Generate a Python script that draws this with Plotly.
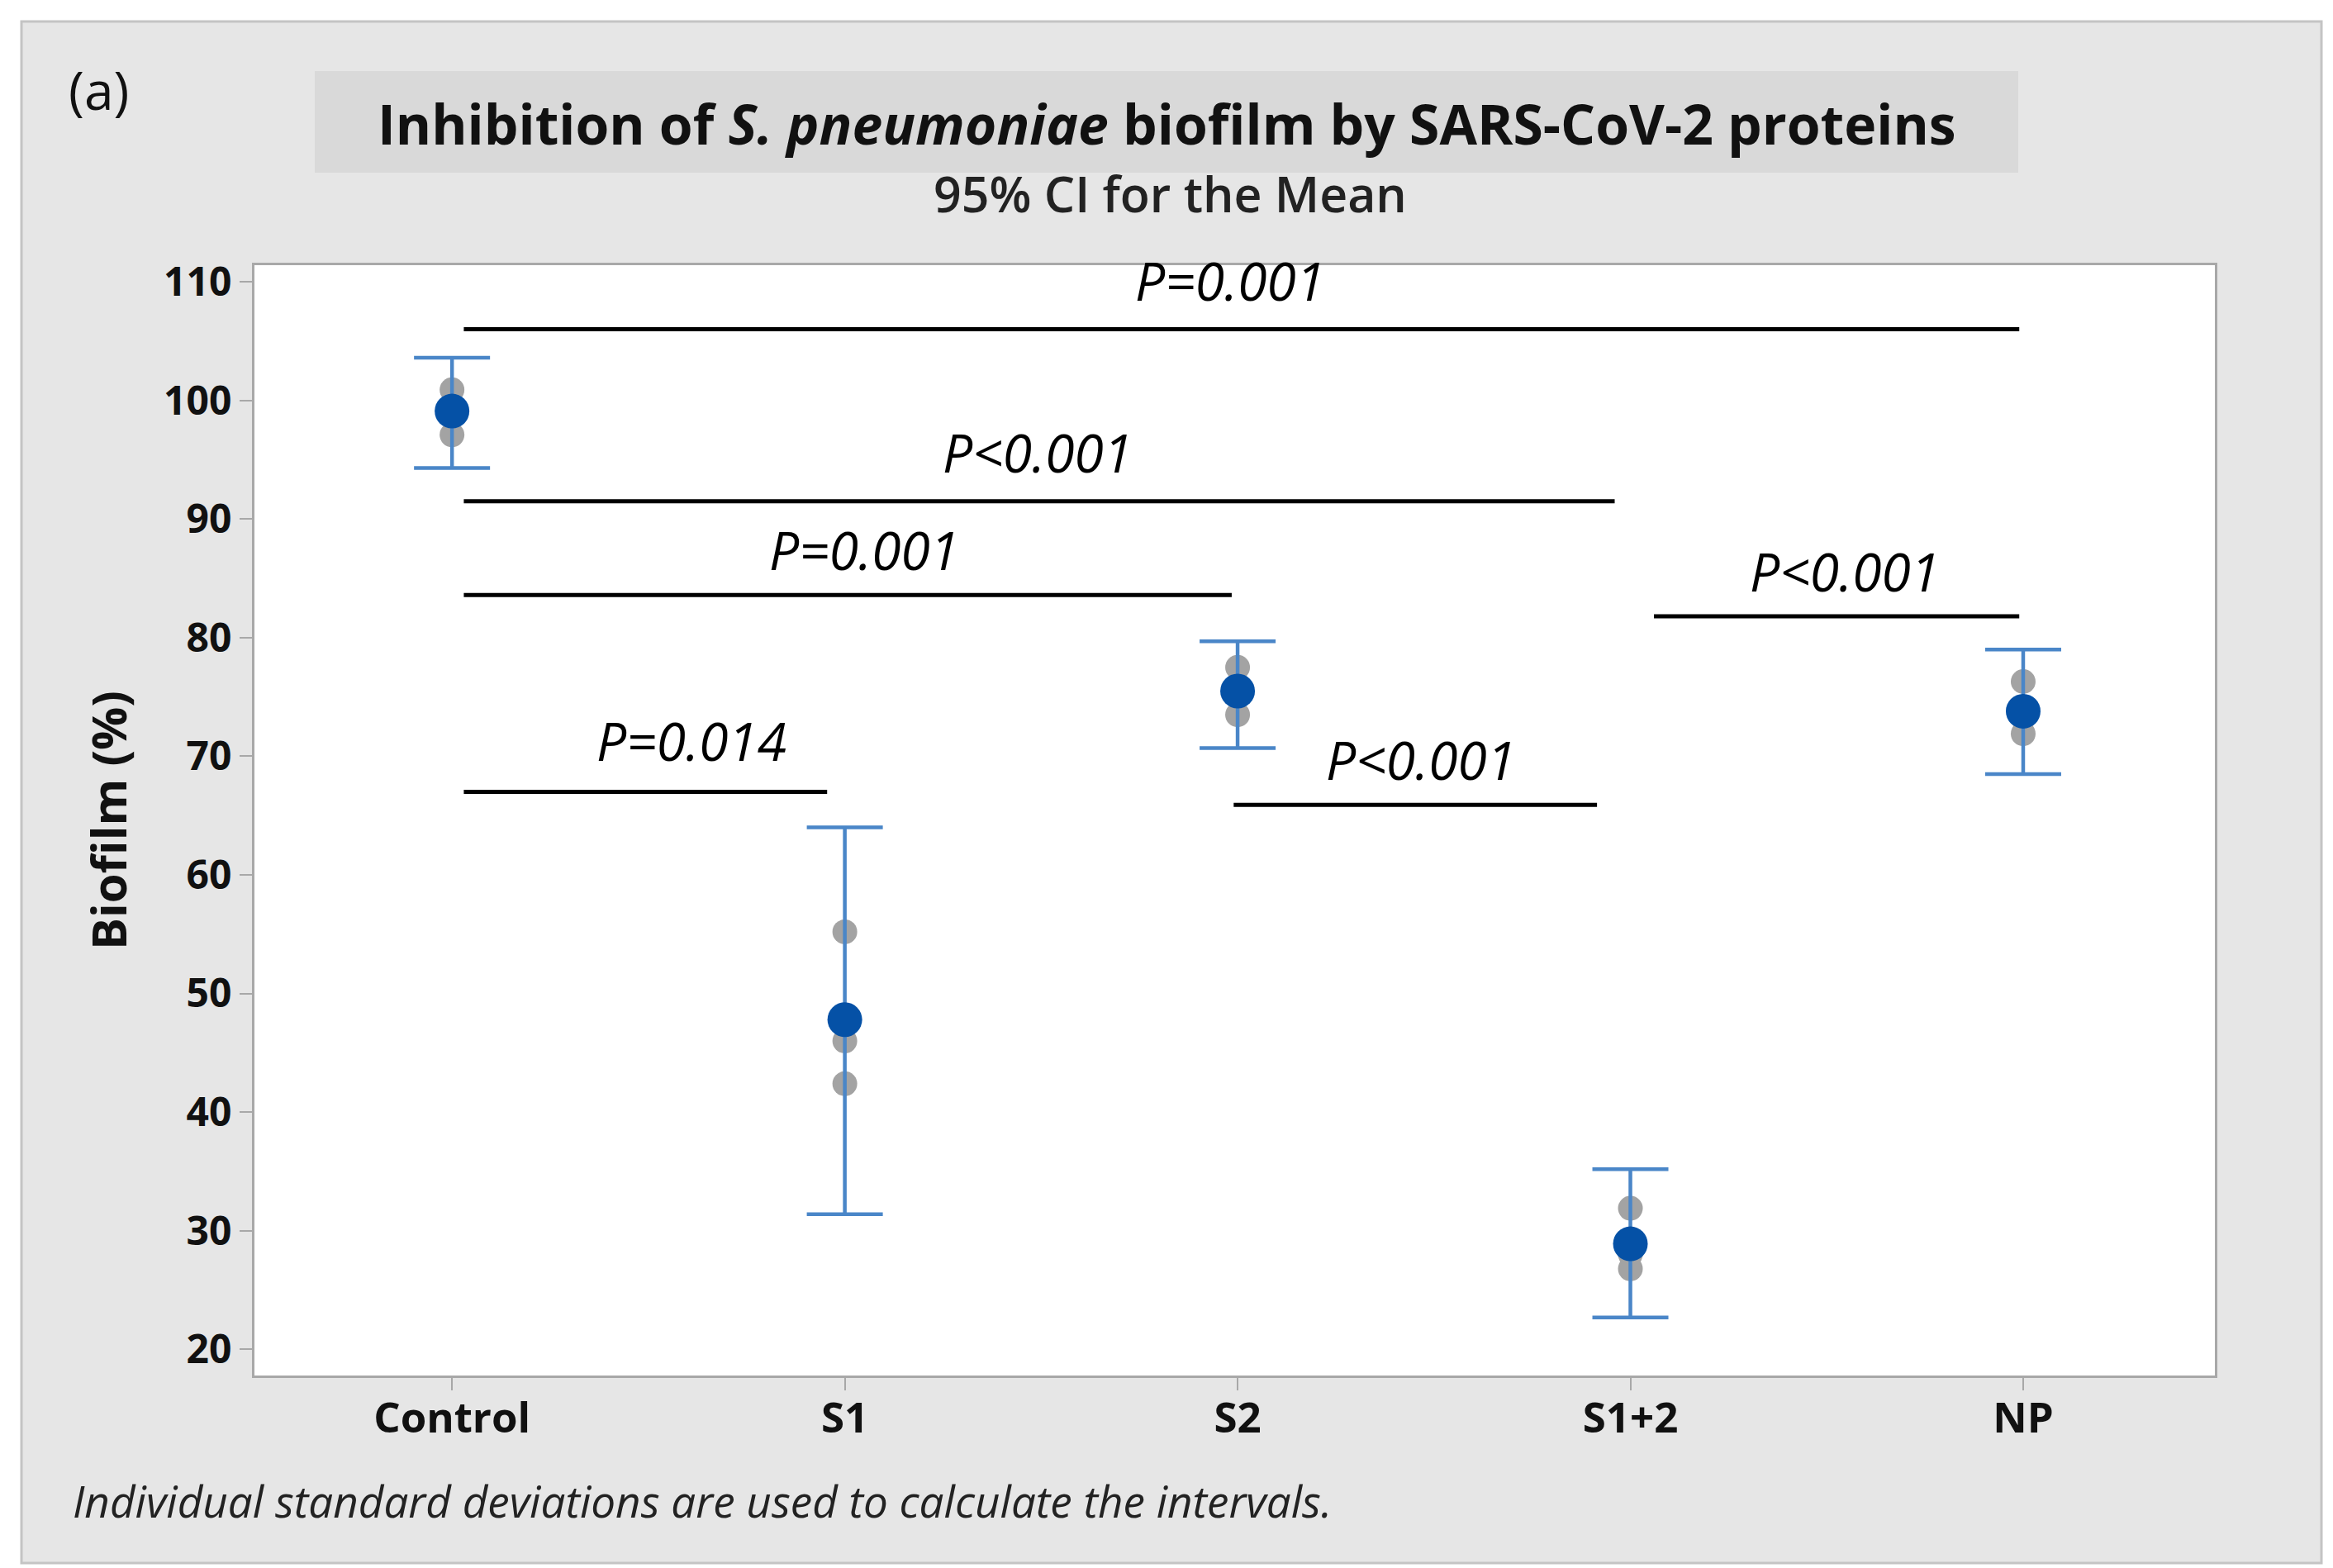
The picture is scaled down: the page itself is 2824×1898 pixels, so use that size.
import plotly.graph_objects as go

# ---------------- data ----------------
categories = ["Control", "S1", "S2", "S1+2", "NP"]
means = [99.1, 47.8, 75.5, 28.9, 73.8]
ci_lower = [94.3, 31.4, 70.7, 22.7, 68.5]
ci_upper = [103.6, 64.0, 79.7, 35.2, 79.0]
individual = [
    [100.9, 99.3, 97.1],
    [55.2, 46.0, 42.4],
    [77.5, 75.4, 73.5],
    [31.9, 28.0, 26.8],
    [76.3, 73.2, 71.9],
]
# comparison brackets: start position, end position, y level; labels: x, y, text
bracket_x0 = [0.03, 0.03, 0.03, 0.03, 1.99, 3.06]
bracket_x1 = [3.99, 2.96, 1.985, 0.955, 2.915, 3.99]
bracket_y = [106.0, 91.5, 83.6, 67.0, 65.9, 81.8]
label_x = [1.98, 1.49, 1.05, 0.61, 2.467, 3.545]
label_y = [110.1, 95.6, 87.4, 71.3, 69.7, 85.6]
labels = ["P=0.001", "P<0.001", "P=0.001", "P=0.014", "P<0.001", "P<0.001"]
y_ticks = [20, 30, 40, 50, 60, 70, 80, 90, 100, 110]

# ---------------- layout geometry ----------------
W, H = 2824, 1898
L, R, T, B = 300, 151, 313, 241
PW, PH = W - L - R, H - T - B


def px(x):
    return (x - L) / PW


def py(y):
    return (H - B - y) / PH


FONT = "Open Sans"

fig = go.Figure()

# individual observations
gx, gy = [], []
for i, vals in enumerate(individual):
    for v in vals:
        gx.append(i)
        gy.append(v)
fig.add_trace(go.Scatter(
    x=gx, y=gy, mode="markers",
    marker=dict(size=30, color="#a3a3a3"),
    showlegend=False, hoverinfo="y",
))

# means with 95% CI
fig.add_trace(go.Scatter(
    x=list(range(len(categories))), y=means, mode="markers",
    marker=dict(size=42, color="#0551a6"),
    error_y=dict(
        type="data", symmetric=False,
        array=[u - m for u, m in zip(ci_upper, means)],
        arrayminus=[m - l for m, l in zip(means, ci_lower)],
        color="#4a86c8", thickness=4.5, width=46,
    ),
    showlegend=False,
))

shapes = [
    # outer gray frame
    dict(type="rect", xref="paper", yref="paper", x0=px(18), x1=px(2802), y0=py(1884), y1=py(18),
         fillcolor="#e6e6e6", line=dict(color="#c4c4c4", width=3), layer="below"),
    # title box
    dict(type="rect", xref="paper", yref="paper", x0=px(373), x1=px(2435), y0=py(201), y1=py(78),
         fillcolor="#d9d9d9", line=dict(width=0), layer="below"),
    # white plot area
    dict(type="rect", xref="paper", yref="paper", x0=0, x1=1, y0=0, y1=1,
         fillcolor="white", line=dict(width=0), layer="below"),
]
for x0, x1, y in zip(bracket_x0, bracket_x1, bracket_y):
    shapes.append(dict(type="line", xref="x", yref="y", x0=x0, x1=x1, y0=y, y1=y,
                       line=dict(color="black", width=5)))

annotations = [
    dict(text="Inhibition of <i>S. pneumoniae</i> biofilm by SARS-CoV-2 proteins",
         xref="paper", yref="paper", x=px(1404), y=py(141), xanchor="center", yanchor="middle",
         showarrow=False, font=dict(family=FONT, size=66, color="#111111", weight="bold")),
    dict(text="95% CI for the Mean", xref="paper", yref="paper", x=px(1408), y=py(226),
         xanchor="center", yanchor="middle", showarrow=False,
         font=dict(family=FONT, size=59, color="#222222", weight=600)),
    dict(text="(a)", xref="paper", yref="paper", x=px(111), y=py(101),
         xanchor="center", yanchor="middle", showarrow=False,
         font=dict(family=FONT, size=64, color="#111111")),
    dict(text="Biofilm (%)", xref="paper", yref="paper", x=px(122), y=py(985),
         xanchor="center", yanchor="middle", showarrow=False, textangle=-90,
         font=dict(family=FONT, size=58, color="#111111", weight="bold")),
    dict(text="<i>Individual standard deviations are used to calculate the intervals.</i>",
         xref="paper", yref="paper", x=px(78), y=py(1808), xanchor="left", yanchor="middle",
         showarrow=False, font=dict(family=FONT, size=53, color="#222222")),
]
for lx, ly, t in zip(label_x, label_y, labels):
    annotations.append(dict(text=f"<i>{t}</i>", xref="x", yref="y", x=lx, y=ly,
                            xanchor="center", yanchor="middle", showarrow=False,
                            font=dict(family=FONT, size=64, color="black")))

fig.update_layout(
    width=W, height=H,
    margin=dict(l=L, r=R, t=T, b=B),
    paper_bgcolor="white", plot_bgcolor="white",
    shapes=shapes, annotations=annotations,
    showlegend=False,
    font=dict(family=FONT, color="#111111"),
)
fig.update_xaxes(
    range=[-0.503, 4.488], tickmode="array", tickvals=list(range(len(categories))),
    ticktext=categories, showgrid=False, zeroline=False,
    showline=True, mirror=True, linecolor="#a8a8a8", linewidth=3,
    ticks="outside", ticklen=15, tickwidth=2, tickcolor="#a8a8a8",
    ticklabelstandoff=-10,
    tickfont=dict(family=FONT, size=51, color="#111111", weight="bold"),
)
fig.update_yaxes(
    range=[17.8, 111.4], tickmode="array", tickvals=y_ticks,
    showgrid=False, zeroline=False,
    showline=True, mirror=True, linecolor="#a8a8a8", linewidth=3,
    ticks="outside", ticklen=15, tickwidth=2, tickcolor="#a8a8a8",
    tickfont=dict(family=FONT, size=48, color="#111111", weight="bold"),
)

fig.write_html("out.html")
